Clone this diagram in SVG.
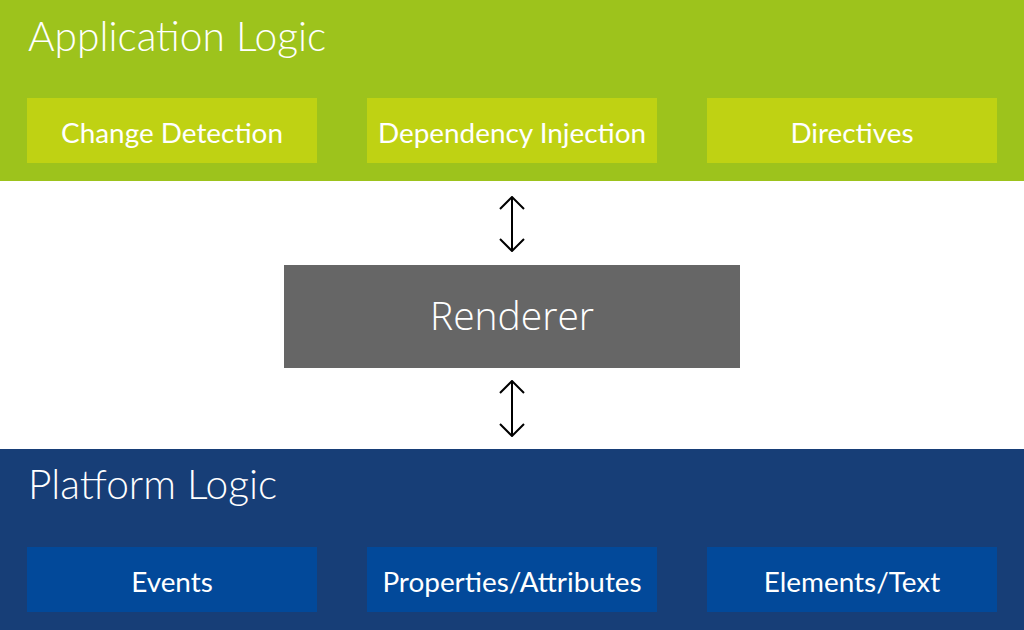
<svg xmlns="http://www.w3.org/2000/svg" width="1024" height="630" viewBox="0 0 1024 630">
<style>
.title{font-family:Lato,"Liberation Sans",sans-serif;font-weight:300;font-size:40.7px;fill:#ffffff}
.lbl{font-family:Lato,"Liberation Sans",sans-serif;font-weight:400;font-size:27.9px;fill:#ffffff;text-anchor:middle}
.gbox{fill:#bfd213}
.bbox{fill:#02499a}
.arr{stroke:#000;stroke-width:2;fill:none}
</style>
<defs>
<marker id="ah" viewBox="0 0 14 26" refX="13" refY="13" markerWidth="14" markerHeight="26" markerUnits="userSpaceOnUse" orient="auto-start-reverse">
<path d="M1,1 L13,13 L1,25" fill="none" stroke="#000" stroke-width="2"/>
</marker>
</defs>
<rect width="1024" height="630" fill="#ffffff"/>
<g id="application-logic">
<rect x="0" y="0" width="1024" height="181" fill="#9dc31c"/>
<text class="title" x="28" y="51">Application Logic</text>
</g>
<g id="change-detection"><rect class="gbox" x="27" y="98" width="290" height="65"/><text class="lbl" x="172" y="142.5">Change Detection</text></g>
<g id="dependency-injection"><rect class="gbox" x="367" y="98" width="290" height="65"/><text class="lbl" x="512" y="142.5">Dependency Injection</text></g>
<g id="directives"><rect class="gbox" x="707" y="98" width="290" height="65"/><text class="lbl" x="852" y="142.5">Directives</text></g>
<g id="renderer">
<rect x="284" y="265" width="456" height="103" fill="#666666"/>
<text x="512" y="330" font-family="'Open Sans',Lato,sans-serif" font-weight="300" font-size="39" fill="#ffffff" text-anchor="middle">Renderer</text>
</g>
<g id="platform-logic">
<rect x="0" y="449" width="1024" height="181" fill="#173e77"/>
<text class="title" x="28" y="499">Platform Logic</text>
</g>
<g id="events"><rect class="bbox" x="27" y="547" width="290" height="65"/><text class="lbl" x="172" y="591.5">Events</text></g>
<g id="properties-attributes"><rect class="bbox" x="367" y="547" width="290" height="65"/><text class="lbl" x="512" y="591.5">Properties/Attributes</text></g>
<g id="elements-text"><rect class="bbox" x="707" y="547" width="290" height="65"/><text class="lbl" x="852" y="591.5">Elements/Text</text></g>
<g id="connectors">
<line class="arr" x1="512" y1="197" x2="512" y2="251" marker-start="url(#ah)" marker-end="url(#ah)"/>
<line class="arr" x1="512" y1="381" x2="512" y2="436" marker-start="url(#ah)" marker-end="url(#ah)"/>
</g>
</svg>
